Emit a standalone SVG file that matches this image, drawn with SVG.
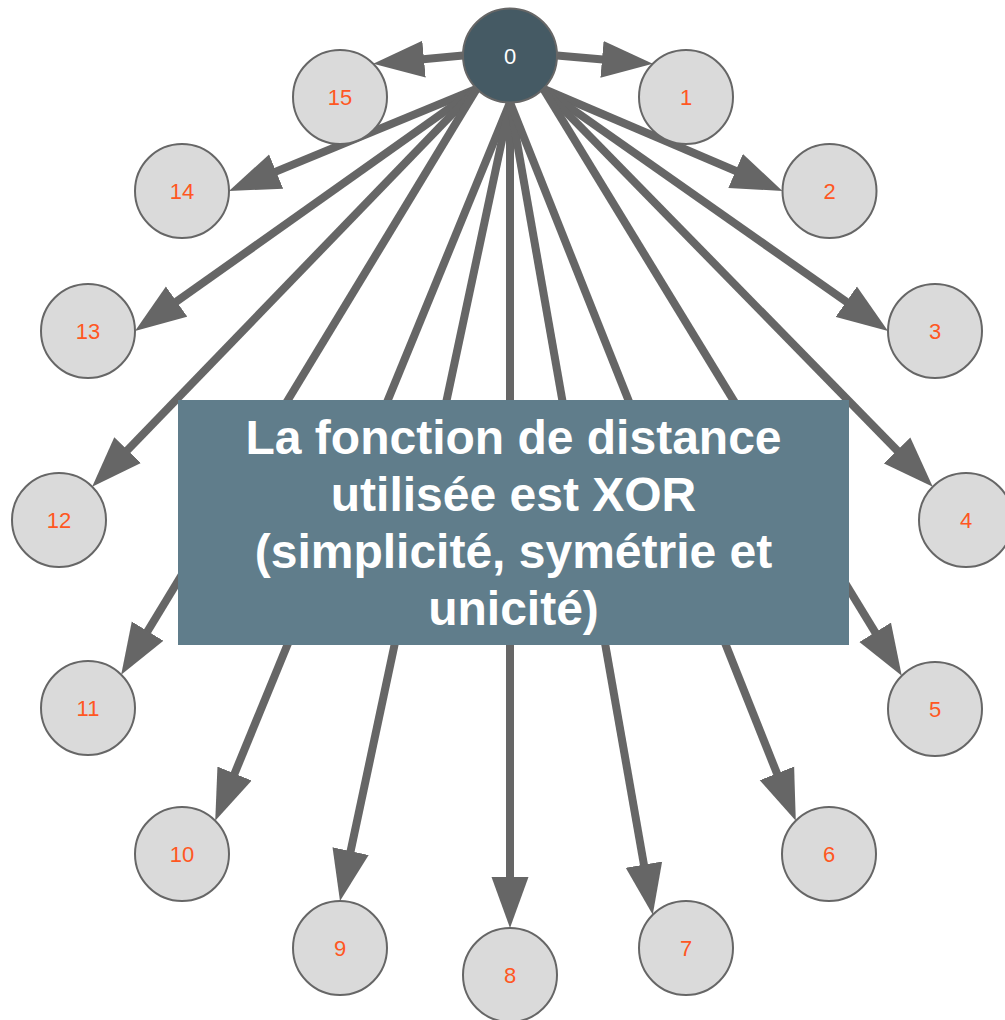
<svg xmlns="http://www.w3.org/2000/svg" width="1005" height="1020" viewBox="0 0 1005 1020">
<style>
.edge{stroke:#666666;stroke-width:8;fill:none;marker-end:url(#arr)}
.n circle{fill:#dadada;stroke:#666666;stroke-width:2}
.n text{font-family:"Liberation Sans",Arial,sans-serif;font-size:22px;fill:#ff5722;text-anchor:middle}
.big{font-family:"Liberation Sans",Arial,sans-serif;font-size:48px;font-weight:bold;fill:#ffffff;text-anchor:middle}
</style>
<defs>
<marker id="arr" markerUnits="userSpaceOnUse" markerWidth="52" markerHeight="38" viewBox="0 0 52 38" refX="1" refY="19" orient="auto">
<path d="M0,0.5 L51,19 L0,37.5 z" fill="#666666"/>
</marker>
</defs>
<rect width="1005" height="1020" fill="#ffffff"/>
<g id="edges">
<line class="edge" x1="463" y1="55.5" x2="423.0" y2="59.2"/>
<line class="edge" x1="557" y1="55.5" x2="603.0" y2="59.5"/>
<line class="edge" x1="476.8" y1="88.7" x2="275.2" y2="171.9"/>
<line class="edge" x1="476.8" y1="88.7" x2="175.8" y2="302.1"/>
<line class="edge" x1="476.8" y1="88.7" x2="126.9" y2="450.8"/>
<line class="edge" x1="476.8" y1="88.7" x2="147.1" y2="632.0"/>
<line class="edge" x1="543.2" y1="88.7" x2="736.5" y2="171.3"/>
<line class="edge" x1="543.2" y1="88.7" x2="847.1" y2="302.3"/>
<line class="edge" x1="543.2" y1="88.7" x2="897.8" y2="451.1"/>
<line class="edge" x1="543.2" y1="88.7" x2="875.7" y2="633.1"/>
<line class="edge" x1="510" y1="102.5" x2="234.2" y2="774.5"/>
<line class="edge" x1="510" y1="102.5" x2="350.4" y2="852.1"/>
<line class="edge" x1="510" y1="102.5" x2="510" y2="878"/>
<line class="edge" x1="510" y1="102.5" x2="644.1" y2="865.6"/>
<line class="edge" x1="510" y1="102.5" x2="777.3" y2="774.3"/>
</g>
<g id="node0" class="n"><circle cx="510" cy="55.5" r="47" style="fill:#455a64"/><text x="510" y="63.5" style="fill:#ffffff">0</text></g>
<g id="node1" class="n"><circle cx="686" cy="97" r="47"/><text x="686" y="105">1</text></g>
<g id="node2" class="n"><circle cx="829.5" cy="191" r="47"/><text x="829.5" y="199">2</text></g>
<g id="node3" class="n"><circle cx="935" cy="331" r="47"/><text x="935" y="339">3</text></g>
<g id="node4" class="n"><circle cx="966" cy="520" r="47"/><text x="966" y="528">4</text></g>
<g id="node5" class="n"><circle cx="935" cy="709" r="47"/><text x="935" y="717">5</text></g>
<g id="node6" class="n"><circle cx="829" cy="854" r="47"/><text x="829" y="862">6</text></g>
<g id="node7" class="n"><circle cx="686" cy="948" r="47"/><text x="686" y="956">7</text></g>
<g id="node8" class="n"><circle cx="510" cy="975" r="47"/><text x="510" y="983">8</text></g>
<g id="node9" class="n"><circle cx="340" cy="948" r="47"/><text x="340" y="956">9</text></g>
<g id="node10" class="n"><circle cx="182" cy="854" r="47"/><text x="182" y="862">10</text></g>
<g id="node11" class="n"><circle cx="88" cy="708" r="47"/><text x="88" y="716">11</text></g>
<g id="node12" class="n"><circle cx="59" cy="520" r="47"/><text x="59" y="528">12</text></g>
<g id="node13" class="n"><circle cx="88" cy="331" r="47"/><text x="88" y="339">13</text></g>
<g id="node14" class="n"><circle cx="182" cy="191" r="47"/><text x="182" y="199">14</text></g>
<g id="node15" class="n"><circle cx="340" cy="97" r="47"/><text x="340" y="105">15</text></g>
<g id="note">
<rect x="178" y="400" width="671" height="245" fill="#607d8b"/>
<text class="big" x="513.5" y="454">La fonction de distance</text>
<text class="big" x="513.5" y="511">utilisée est XOR</text>
<text class="big" x="513.5" y="568">(simplicité, symétrie et</text>
<text class="big" x="513.5" y="625">unicité)</text>
</g>
</svg>
